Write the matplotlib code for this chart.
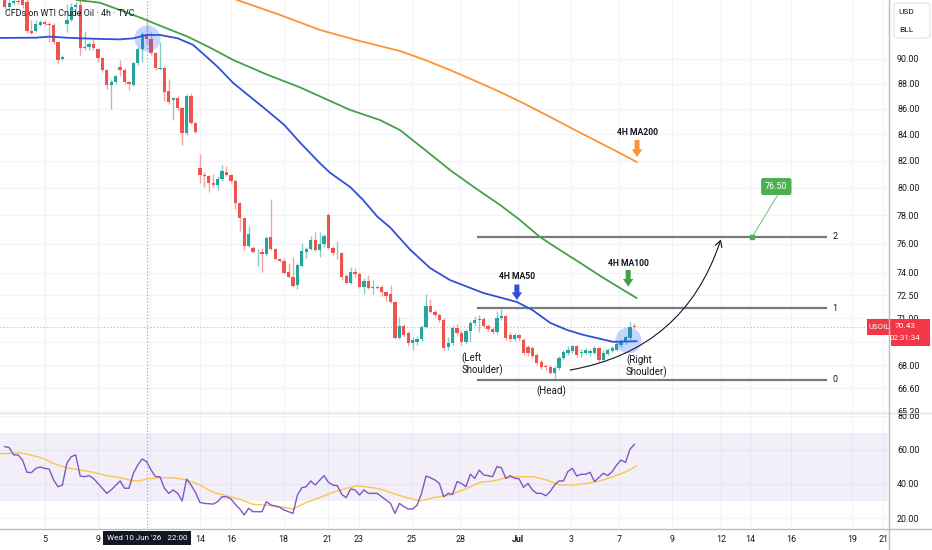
import numpy as np
import matplotlib
matplotlib.use("Agg")
import matplotlib.pyplot as plt
from matplotlib.patches import Rectangle, FancyBboxPatch
from matplotlib.lines import Line2D
from matplotlib.ticker import NullLocator, NullFormatter

plt.rcParams['font.family'] = ['Roboto', 'DejaVu Sans']

# ---------------- data (USOIL 4h candles) ----------------
opens = [
    95.17, 94.41, 94.75, 94.92, 95.00, 94.83, 92.30, 92.30, 92.80, 93.06,
    92.89, 92.80, 91.37, 90.00, 92.89, 93.31, 94.41, 94.58, 90.94, 91.02,
    91.28, 90.85, 90.09, 89.12, 87.85, 88.09, 89.36, 89.12, 88.09, 87.85,
    89.68, 90.85, 92.04, 91.62, 90.51, 89.20, 89.28, 87.37, 86.65, 86.81,
    86.09, 84.12, 86.97, 84.90, 81.43, 80.90, 80.83, 80.31, 80.23, 80.61,
    81.13, 80.90, 80.46, 78.90, 77.78, 75.88, 75.74, 75.43, 75.46, 75.32,
    76.45, 75.67, 74.97, 74.83, 74.07, 73.74, 73.21, 74.48, 75.46, 75.67,
    76.24, 75.60, 76.02, 78.06, 75.74, 75.36, 75.39, 73.81, 73.35, 74.07,
    73.94, 73.08, 73.48, 73.02, 73.08, 73.08, 72.69, 72.56, 72.03, 69.73,
    70.52, 70.06, 69.41, 69.48, 69.67, 70.45, 71.77, 71.38, 71.19, 70.86,
    69.15, 69.41, 70.37, 70.05, 69.47, 70.18, 70.69, 70.88, 70.95, 70.50,
    70.30, 70.11, 71.01, 71.14, 69.92, 69.66, 69.92, 69.60, 69.15, 69.09,
    68.65, 68.21, 67.96, 67.89, 67.53, 67.83, 68.46, 68.77, 68.90, 69.22,
    68.77, 68.77, 68.77, 68.77, 69.09, 68.33, 68.71, 68.90, 68.96, 69.28,
    69.47, 69.73, 70.50]
highs = [
    95.50, 95.00, 95.30, 95.25, 95.30, 95.25, 93.31, 93.31, 93.31, 93.23,
    93.06, 92.97, 91.45, 90.34, 94.66, 94.75, 94.83, 95.00, 92.30, 91.45,
    91.62, 90.94, 90.17, 89.20, 88.33, 88.73, 89.92, 89.28, 88.17, 89.76,
    91.02, 92.21, 93.56, 92.21, 90.60, 91.45, 89.44, 88.33, 86.89, 86.97,
    86.17, 87.13, 87.21, 84.98, 82.47, 81.13, 80.90, 80.98, 80.83, 81.65,
    81.58, 80.98, 80.61, 78.97, 77.85, 77.22, 75.88, 75.67, 75.74, 76.52,
    79.18, 75.74, 75.04, 75.04, 74.69, 75.11, 74.69, 76.05, 75.81, 76.52,
    76.80, 76.80, 76.66, 78.20, 75.88, 76.16, 75.46, 73.94, 74.41, 74.34,
    74.07, 73.67, 73.87, 73.54, 73.21, 73.21, 72.75, 73.21, 72.10, 71.05,
    70.65, 70.19, 69.80, 69.86, 70.58, 72.56, 72.23, 71.51, 71.31, 70.99,
    69.80, 70.50, 70.62, 70.24, 70.30, 70.82, 71.14, 71.20, 71.07, 70.62,
    70.43, 71.47, 71.60, 71.20, 70.11, 70.05, 69.99, 69.73, 69.28, 69.22,
    68.77, 68.33, 68.08, 68.02, 67.96, 68.58, 68.96, 69.22, 69.28, 69.28,
    69.03, 69.09, 69.03, 69.22, 69.15, 68.96, 69.09, 69.22, 69.47, 69.66,
    69.92, 70.75, 70.70]
lows = [
    94.24, 94.24, 94.58, 94.66, 94.32, 92.13, 92.04, 92.21, 92.72, 92.72,
    91.45, 91.28, 89.60, 89.92, 92.21, 93.14, 94.32, 90.34, 90.77, 90.77,
    90.77, 89.76, 88.96, 87.53, 86.01, 87.93, 88.57, 87.93, 87.45, 87.77,
    89.52, 89.76, 91.28, 90.34, 89.12, 89.12, 86.57, 86.33, 85.11, 85.93,
    83.22, 83.97, 84.82, 84.12, 80.36, 80.06, 79.71, 80.06, 79.86, 80.53,
    80.83, 80.38, 78.48, 76.87, 75.60, 75.81, 75.39, 74.46, 74.07, 75.18,
    75.60, 74.90, 74.76, 73.94, 73.67, 73.08, 72.89, 74.41, 75.04, 75.60,
    75.53, 75.11, 75.81, 75.67, 75.25, 74.97, 73.54, 73.28, 73.28, 73.74,
    73.02, 72.56, 72.95, 72.56, 72.89, 72.43, 72.10, 71.97, 69.67, 69.67,
    69.80, 69.23, 68.98, 69.29, 69.54, 70.39, 71.31, 71.05, 70.73, 68.98,
    68.96, 69.28, 69.92, 69.28, 69.34, 69.47, 70.50, 70.11, 70.37, 70.18,
    69.99, 69.99, 70.88, 69.60, 69.47, 69.54, 69.54, 68.65, 68.58, 68.46,
    68.02, 67.77, 67.71, 67.47, 67.22, 67.71, 68.33, 68.65, 68.77, 68.52,
    68.52, 68.71, 68.58, 68.71, 68.21, 68.27, 68.65, 68.83, 68.90, 69.15,
    69.34, 69.60, 70.35]
closes = [
    94.41, 94.75, 94.92, 94.83, 94.58, 92.30, 92.19, 92.89, 93.06, 92.89,
    92.80, 91.37, 89.92, 90.17, 93.23, 94.41, 94.58, 90.94, 91.02, 91.28,
    90.94, 90.09, 89.12, 87.85, 88.09, 88.65, 89.12, 88.09, 87.93, 89.68,
    90.85, 92.04, 91.62, 90.51, 89.28, 89.28, 87.29, 86.49, 86.81, 86.09,
    84.12, 86.97, 84.90, 84.19, 80.90, 80.83, 80.31, 80.23, 80.61, 81.20,
    80.90, 80.46, 78.90, 77.78, 75.88, 76.66, 75.46, 75.46, 75.32, 76.37,
    75.67, 74.97, 74.83, 74.00, 73.74, 73.15, 74.55, 75.53, 75.67, 76.24,
    75.60, 76.02, 76.52, 75.74, 75.39, 75.39, 73.74, 73.35, 74.07, 73.94,
    73.08, 73.48, 73.02, 73.08, 73.02, 72.69, 72.43, 72.03, 69.73, 70.52,
    69.93, 69.41, 69.60, 69.67, 70.45, 71.77, 71.38, 71.19, 70.86, 69.10,
    69.41, 70.37, 70.05, 69.47, 70.18, 70.69, 70.88, 70.95, 70.50, 70.30,
    70.11, 71.01, 71.14, 69.73, 69.66, 69.92, 69.73, 68.77, 68.77, 68.58,
    68.14, 67.89, 67.89, 67.53, 67.83, 68.46, 68.83, 68.96, 69.22, 68.65,
    68.83, 68.96, 68.90, 69.09, 68.33, 68.77, 68.96, 69.09, 69.34, 69.54,
    69.79, 70.45, 70.43]

# moving averages (bar index, price)
ma50_x = [-1.1, 7, 10, 14, 17, 22, 26, 29, 32, 35, 39, 42.5, 45, 48, 51.5, 59, 63, 66.6,
          71, 73.4, 77.9, 80.8, 84, 86.9, 91.4, 95.9, 100.4, 107.9, 115.5, 119, 123,
          126.8, 130.4, 134.3, 137.2, 142.5]
ma50_y = [91.75, 91.77, 91.86, 91.77, 91.72, 91.66, 91.63, 91.72, 92.00, 92.00, 91.72,
          91.16, 90.34, 89.36, 88.05, 85.90, 84.74, 83.37, 81.84, 81.09, 80.05, 79.11,
          77.92, 77.15, 75.60, 74.34, 73.52, 72.66, 72.06, 71.53, 70.70, 70.24, 69.93,
          69.67, 69.48, 69.52]
ma100_x = [12.9, 16.3, 21.5, 30.5, 34.3, 41.1, 46.3, 51.5, 59.1, 66.6, 71.1, 77.9, 84.6,
           89.1, 94.8, 100.4, 106.1, 111.7, 116.2, 120.7, 125.2, 129.8, 134.3, 138.8, 142.5]
ma100_y = [95.6, 94.99, 94.75, 93.48, 92.89, 91.88, 90.94, 89.92, 88.73, 87.69, 86.97,
           85.90, 85.11, 84.34, 82.81, 81.31, 79.98, 78.75, 77.67, 76.47, 75.57, 74.68,
           73.80, 72.98, 72.32]
ma200_x = [48, 52.4, 62.1, 71.1, 80.1, 89.1, 94.8, 100.4, 106.1, 111.7, 117.3, 123,
           128.6, 134.3, 137.4, 142.5]
ma200_y = [95.7, 94.99, 93.70, 92.42, 91.49, 90.66, 89.92, 89.10, 88.21, 87.33, 86.37,
           85.35, 84.34, 83.34, 82.81, 81.91]

# RSI and its moving average
rsi_x = [0, 1, 2, 3, 4, 5, 6, 7, 8, 9, 10, 11, 12, 13, 14, 15, 16, 17, 18, 19, 20, 21,
         23, 24,
         26, 27, 28, 29, 30, 31, 32, 33, 34, 35, 36, 37, 38, 39, 40, 41, 42, 43, 44, 45,
         47, 48, 49, 50, 51, 52, 53, 54, 55, 56,
         58, 59, 60, 62, 63, 65, 66, 67, 68, 69, 70,
         72, 73, 74, 75, 76, 77, 78, 79, 80, 81, 82, 83, 84, 85, 86, 87, 88, 89, 90, 91,
         92, 93, 94, 95, 96, 97, 98, 99, 100, 101, 102, 103, 104, 105, 106, 107, 108,
         109, 110, 111, 112, 113, 114, 115, 116, 117, 118, 119, 120, 121, 122, 123, 124,
         125, 126, 127, 128, 129, 130, 131, 132, 133,
         135, 136, 137, 138, 139, 140, 141, 142]
rsi_v = [62.0, 61.4, 57.1, 57.1, 54.1, 46.9, 46.7, 49.2, 50.0, 49.2, 48.8, 42.4, 38.4,
         39.4, 52.2, 56.1, 57.1, 44.7, 44.3, 44.9, 43.3, 40.4,
         34.5, 36.5,
         41.8, 37.5, 37.5, 46.3, 51.2, 54.7, 53.1, 48.2, 44.3, 44.3, 37.5, 34.5, 36.5,
         34.5, 30.0, 42.9, 39.4, 35.1, 29.2, 28.6,
         28.2, 29.6, 32.5, 32.5, 31.2, 28.0, 25.3, 21.8, 25.7, 23.7,
         23.7, 29.6, 27.7, 26.3, 24.7, 22.7, 33.5, 37.8, 38.4, 41.8, 39.4,
         44.9, 41.0, 39.4, 39.0, 33.9, 32.0, 37.1, 36.5, 33.5, 36.5, 34.5, 34.5, 34.5,
         32.5, 30.6, 28.6, 22.7, 28.6, 26.7, 25.3, 25.3, 27.6, 34.5, 44.7, 43.7, 42.4,
         40.4, 32.5, 34.5, 33.9, 41.4, 40.4, 38.4, 45.7, 43.3, 48.2, 45.3, 44.9, 44.3,
         50.2, 49.6, 43.3, 44.9, 43.4, 43.0, 38.0, 40.4, 36.5, 34.5, 34.5, 33.1, 35.5,
         39.4, 41.8, 41.8, 47.3, 49.2, 44.7, 45.7, 45.7, 46.9, 41.4,
         46.3, 44.9, 47.3, 51.2, 54.1, 52.7, 60.4, 63.3]
rsima_x = [-1.1, 1.2, 3.4, 5.7, 8.7, 10.9, 14, 17, 20, 23, 26, 29, 30.5, 32, 35, 38, 41,
           44, 47, 50, 53, 56, 59, 62, 65, 68, 71, 74, 77, 79.4, 81.6, 84.6, 87.6, 90.7,
           93.7, 96.7, 100.4, 103.4, 107.2, 110.2, 113.2, 116.2, 119.2, 122.2, 125.2,
           128.2, 131.2, 134.2, 137.2, 140.2, 142.4]
rsima_v = [57.8, 58.0, 58.4, 57.1, 55.1, 52.2, 49.6, 48.2, 46.9, 44.9, 43.7, 41.8, 41.8,
           43.0, 43.7, 43.7, 42.4, 39.4, 35.1, 33.1, 31.0, 28.0, 27.6, 26.7, 25.3, 29.2,
           32.0, 35.1, 37.5, 39.0, 38.4, 37.1, 34.5, 32.0, 30.0, 32.0, 33.5, 36.5, 41.0,
           41.8, 43.7, 44.3, 44.3, 42.4, 39.4, 39.4, 40.4, 41.8, 44.3, 47.3, 50.6]

# projection levels
fib_levels = [67.10, 71.65, 76.50]
fib_names = ['0', '1', '2']

price_ticks = [90, 88, 86, 84, 82, 80, 78, 76, 74, 72.5, 71, 69.5, 68, 66.6, 65.2]
hidden_ticks = [69.5]          # covered by the last-price label
rsi_ticks = [80, 60, 40, 20]
date_pos = [9.07, 21.1, 32.8, 44.0, 51.0, 62.9, 72.8, 79.9, 91.8, 102.7, 115.7, 127.7,
            138.6, 150.5, 161.6, 168.1, 177.3, 191.1, 198.1]
date_lbl = ['5', '9', '', '14', '16', '18', '21', '23', '25', '28', 'Jul', '3', '7',
            '9', '12', '14', '16', '19', '21']

# ---------------- figure ----------------
W, H = 932, 550
fig = plt.figure(figsize=(W / 100, H / 100), dpi=100)
fig.patch.set_facecolor('white')


def fx(p):
    return p / W


def fy(p):
    return 1 - p / H


ax = fig.add_axes([0, fy(412), fx(888), 412 / H])
rx = fig.add_axes([0, fy(528), fx(888), (528 - 413) / H], sharex=ax)

O = np.array(opens)
Hh = np.array(highs)
L = np.array(lows)
C = np.array(closes)
x = np.arange(len(C))
up = C >= O
body_col = ['#26a69a' if u else '#ef5350' for u in up]
wick_col = ['#86cdc5' if u else '#f5a3a2' for u in up]

ax.set_yscale('log')
ax.set_xlim(-1.08, 199.2)
ax.set_ylim(65.16, 94.99)

ax.vlines(x, L, Hh, colors=wick_col, lw=1, zorder=3)
ax.bar(x, np.maximum(np.abs(C - O), 0.025), bottom=np.minimum(O, C), width=0.74,
       color=body_col, lw=0, zorder=4)

ax.plot(ma200_x, ma200_y, color='#ff9233', lw=1.3, zorder=5)
ax.plot(ma100_x, ma100_y, color='#43a047', lw=1.3, zorder=5)
ax.plot(ma50_x, ma50_y, color='#3050d8', lw=1.3, zorder=5)

# highlight circles
ax.scatter([32.1, 140.6], [91.75, 69.60], s=350, color='#2962ff', alpha=0.26, lw=0,
           zorder=6)

# crosshair + last price line
ax.axvline(32.0, color='#9598a1', ls=(0, (1, 2)), lw=0.8, zorder=2)
rx.axvline(32.0, color='#9598a1', ls=(0, (1, 2)), lw=0.8, zorder=2)
ax.axhline(C[-1], color='#ef5350', ls=(0, (1, 2)), lw=0.8, alpha=0.6, zorder=2)

# projection levels
ax.hlines(fib_levels, 106.5, 185.5, color='#7a7a7a', lw=1.6, zorder=3)
for lv, nm in zip(fib_levels, fib_names):
    ax.text(186.6, lv, nm, ha='left', va='center', fontsize=6.4, color='#131722')

# target marker and label
tx, ty = 174.0, 80.09
ax.plot([168.6, tx + 0.3], [fib_levels[2], 79.45], color='#81c784', lw=0.8, zorder=6)
ax.plot([168.6], [fib_levels[2]], 's', ms=2.6, color='#4caf50', zorder=7)
ax.text(tx, ty, f'{fib_levels[2]:.2f}', ha='center', va='center', fontsize=6.4,
        color='white', zorder=8,
        bbox=dict(boxstyle='round,pad=0.45,rounding_size=0.25', fc='#4caf50', ec='none'))

# MA labels and block arrows
arrow_style = 'simple,head_width=0.75,head_length=0.55,tail_width=0.36'
for (ax_x, y_txt, y_tail, y_tip, col, txt) in [
        (142.6, 84.11, 83.57, 82.28, '#ff9233', '4H MA200'),
        (140.6, 74.61, 74.20, 73.08, '#43a047', '4H MA100'),
        (115.5, 73.73, 73.22, 72.19, '#3050d8', '4H MA50')]:
    ax.annotate('', xy=(ax_x, y_tip), xytext=(ax_x, y_tail),
                arrowprops=dict(arrowstyle=arrow_style, color=col, lw=0,
                                shrinkA=0, shrinkB=0, mutation_scale=10), zorder=7)
    ax.text(ax_x, y_txt, txt, ha='center', va='center', fontsize=6.2, color='#131722',
            fontweight='bold', zorder=7)

# pattern labels
ax.text(103.0, 68.08, '(Left\nShoulder)', ha='left', va='center', fontsize=7,
        linespacing=1.05, color='#131722', zorder=7)
ax.text(123.2, 66.42, '(Head)', ha='center', va='center', fontsize=7,
        color='#131722', zorder=7)
ax.text(140.1, 67.97, '(Right\nShoulder)', ha='left', va='center', fontsize=7,
        linespacing=1.05, color='#131722', zorder=7)

# curved projection arrow
ax.annotate('', xy=(161.5, 76.3), xytext=(127.5, 67.71),
            arrowprops=dict(arrowstyle='->,head_length=0.45,head_width=0.25',
                            connectionstyle='arc3,rad=0.3', color='#131722', lw=0.8,
                            shrinkA=0, shrinkB=0), zorder=7)

# axes cosmetics (price)
ax.yaxis.tick_right()
ax.set_yticks(price_ticks)
ax.set_yticklabels(['' if v in hidden_ticks else f'{v:.2f}' for v in price_ticks])
ax.yaxis.set_minor_locator(NullLocator())
ax.yaxis.set_minor_formatter(NullFormatter())
ax.tick_params(axis='y', length=0, pad=6.5, labelsize=6.4, labelcolor='#131722')
ax.set_xticks(date_pos)
ax.tick_params(axis='x', length=0, labelbottom=False)
ax.grid(True, color='#f0f3fa', lw=0.9)
ax.set_axisbelow(True)
for s in ax.spines.values():
    s.set_visible(False)

# RSI panel
rx.set_ylim(14.12, 81.76)
rx.axhspan(30, 70, color='#7e57c2', alpha=0.09, lw=0, zorder=1)
rx.plot(rsima_x, rsima_v, color='#f9c74f', lw=1.0, zorder=3)
rx.plot(rsi_x, rsi_v, color='#7e57c2', lw=1.0, zorder=4)
rx.yaxis.tick_right()
rx.set_yticks(rsi_ticks)
rx.set_yticklabels([f'{v:.2f}' for v in rsi_ticks])
rx.tick_params(axis='y', length=0, pad=6.5, labelsize=6.4, labelcolor='#131722')
rx.set_xticks(date_pos)
rx.set_xticklabels(date_lbl)
rx.tick_params(axis='x', length=0, pad=5, labelsize=6.4, labelcolor='#131722')
for lab in rx.get_xticklabels():
    if lab.get_text() == 'Jul':
        lab.set_fontweight('bold')
rx.grid(True, color='#f0f3fa', lw=0.9)
rx.set_axisbelow(True)
for s in rx.spines.values():
    s.set_visible(False)

# frame lines
fig.add_artist(Line2D([0, 1], [fy(412.5)] * 2, color='#e0e3eb', lw=1))
fig.add_artist(Line2D([0, 1], [fy(528.5)] * 2, color='#b8bcc6', lw=1))
fig.add_artist(Line2D([fx(888.5)] * 2, [0, 1], color='#b8bcc6', lw=1))

# title
fig.text(fx(5), fy(13), 'CFDs on WTI Crude Oil · 4h · TVC', fontsize=6.4,
         color='#131722', ha='left', va='center')

# currency box
fig.add_artist(FancyBboxPatch((fx(894), fy(38)), fx(36), 35 / H,
                              boxstyle='round,pad=0,rounding_size=0.004',
                              transform=fig.transFigure, fc='white', ec='#e0e3eb', lw=0.8))
fig.text(fx(906), fy(12), 'USD', fontsize=6, color='#131722', ha='center', va='center')
fig.text(fx(906), fy(30), 'BLL', fontsize=6, color='#131722', ha='center', va='center')

# last price label
fig.add_artist(Rectangle((fx(867), fy(335)), fx(891) - fx(867), 16 / H,
                         transform=fig.transFigure, fc='#f23645', ec='none'))
fig.add_artist(Rectangle((fx(891), fy(346)), fx(930) - fx(891), 27 / H,
                         transform=fig.transFigure, fc='#f23645', ec='none'))
fig.text(fx(879), fy(327), 'USOIL', fontsize=5.7, color='white', ha='center', va='center')
fig.text(fx(905), fy(326), f'{C[-1]:.2f}', fontsize=6, color='white', ha='center',
         va='center')
fig.text(fx(905), fy(338), '02:31:34', fontsize=5.7, color='white', ha='center',
         va='center')

# crosshair date label
fig.text(fx(146.7), fy(538), "Wed 10 Jun '26   22:00", fontsize=5.8, color='white',
         ha='center', va='center',
         bbox=dict(boxstyle='square,pad=0.45', fc='#131722', ec='none'))

fig.savefig('out.png', dpi=100, facecolor='white')
